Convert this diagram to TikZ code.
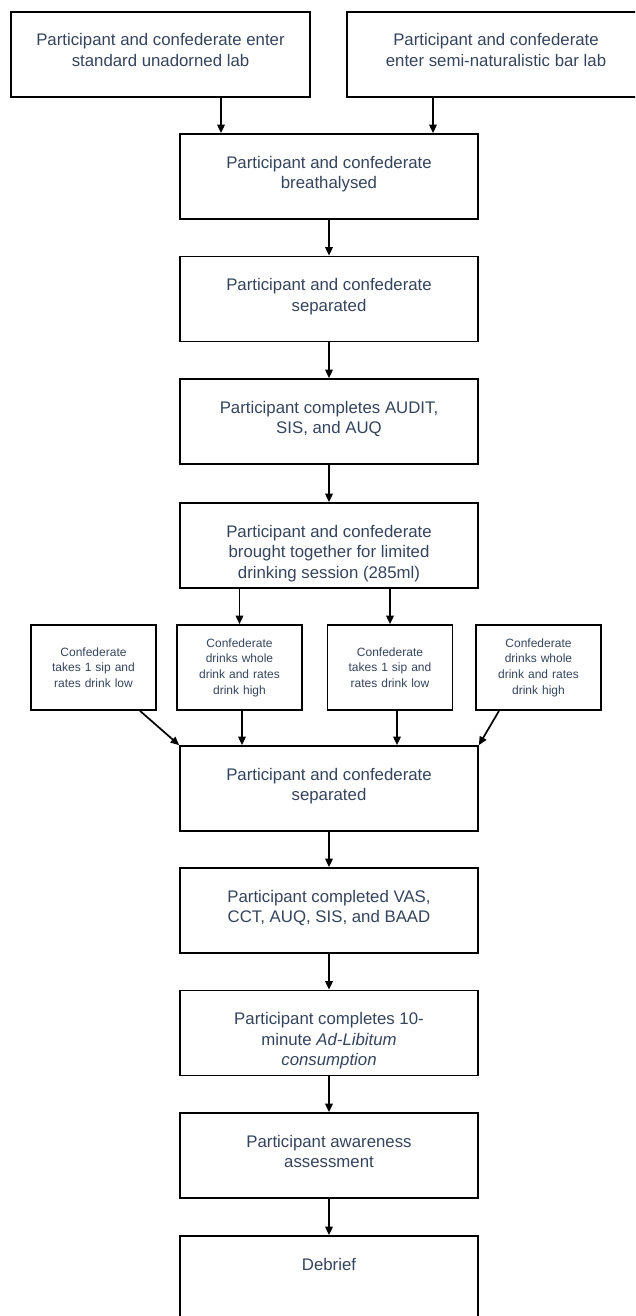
\documentclass[tikz,border=0pt]{standalone}
\usepackage{fontspec}
\setmainfont{Liberation Sans}
\usepackage{tikz}
\usetikzlibrary{math}
\usetikzlibrary{arrows.meta}
\usetikzlibrary{positioning}
\definecolor{stepink}{RGB}{52,68,92}
\newcommand{\steptext}[1]{\parbox[c][85pt][t]{290pt}{\centering\rule{0pt}{34pt}#1}}

\begin{document}
\begin{tikzpicture}[x=1pt, y=-1pt, >={Triangle[width=7.5pt,length=8.5pt]},
    stepbox/.style={draw, line width=1.7pt, inner sep=0pt, minimum width=298pt,
      text=stepink, font=\fontsize{16.8}{20.6}\selectfont},
    smallbox/.style={draw, line width=1.7pt, inner sep=0pt, minimum width=125pt,
      minimum height=85pt, text width=122pt, align=center, text=stepink,
      font=\fontsize{12}{15.6}\selectfont},
    flow/.style={line width=1.7pt, ->}]
  \tikzmath{
    \cx = 329;
    \ry = 667.5;
  }
  \clip (0, 0) rectangle (635, 1316);

  % entry conditions
  \node[stepbox, minimum width=299pt] (labstd) at (160.5, 54.5)
    {\steptext{Participant and confederate enter\\standard unadorned lab}};
  \node[stepbox] (labbar) at (496, 54.5)
    {\steptext{Participant and confederate\\enter semi-naturalistic bar lab}};

  % main sequence
  \node[stepbox] (breath) at (\cx, 176.5)
    {\steptext{Participant and confederate\\breathalysed}};
  \node[stepbox] (sepa) at (\cx, 299)
    {\steptext{Participant and confederate\\separated}};
  \node[stepbox] (audit) at (\cx, 421.5)
    {\steptext{Participant completes AUDIT,\\SIS, and AUQ}};
  \node[stepbox] (together) at (\cx, 545.5)
    {\steptext{Participant and confederate\\brought together for limited\\drinking session (285ml)}};

  % confederate behaviour
  \node[smallbox] (siplow1) at (93.5, \ry)
    {Confederate\\takes 1 sip and\\rates drink low};
  \node[smallbox] (drinkhigh1) at (239.5, \ry)
    {Confederate\\drinks whole\\drink and rates\\drink high};
  \node[smallbox] (siplow2) at (390, \ry)
    {Confederate\\takes 1 sip and\\rates drink low};
  \node[smallbox] (drinkhigh2) at (538.5, \ry)
    {Confederate\\drinks whole\\drink and rates\\drink high};

  \node[stepbox] (sepb) at (\cx, 788.5)
    {\steptext{Participant and confederate\\separated}};
  \node[stepbox] (vas) at (\cx, 910.5)
    {\steptext{Participant completed VAS,\\CCT, AUQ, SIS, and BAAD}};
  \node[stepbox] (adlib) at (\cx, 1033)
    {\steptext{Participant completes 10-\\minute \textit{Ad-Libitum}\\\textit{consumption}}};
  \node[stepbox] (aware) at (\cx, 1155.5)
    {\steptext{Participant awareness\\assessment}};
  \node[stepbox] (debrief) at (\cx, 1278.5)
    {\steptext{Debrief}};

  % arrows
  \draw[flow] (labstd.south -| 221, 0) -- (breath.north -| 221, 0);
  \draw[flow] (labbar.south -| 433, 0) -- (breath.north -| 433, 0);
  \foreach \a/\b in {breath/sepa, sepa/audit, audit/together} {
    \draw[flow] (\a) -- (\b);
  }
  \draw[flow] (together.south -| drinkhigh1) -- (drinkhigh1);
  \draw[flow] (together.south -| siplow2) -- (siplow2);
  \draw[flow] (siplow1.south -| 140, 0) -- (sepb.north west);
  \draw[flow] (drinkhigh1.south -| 242, 0) -- (sepb.north -| 242, 0);
  \draw[flow] (siplow2.south -| 397, 0) -- (sepb.north -| 397, 0);
  \draw[flow] (drinkhigh2.south -| 499, 0) -- (sepb.north east);
  \foreach \a/\b in {sepb/vas, vas/adlib, adlib/aware, aware/debrief} {
    \draw[flow] (\a) -- (\b);
  }
\end{tikzpicture}
\end{document}
